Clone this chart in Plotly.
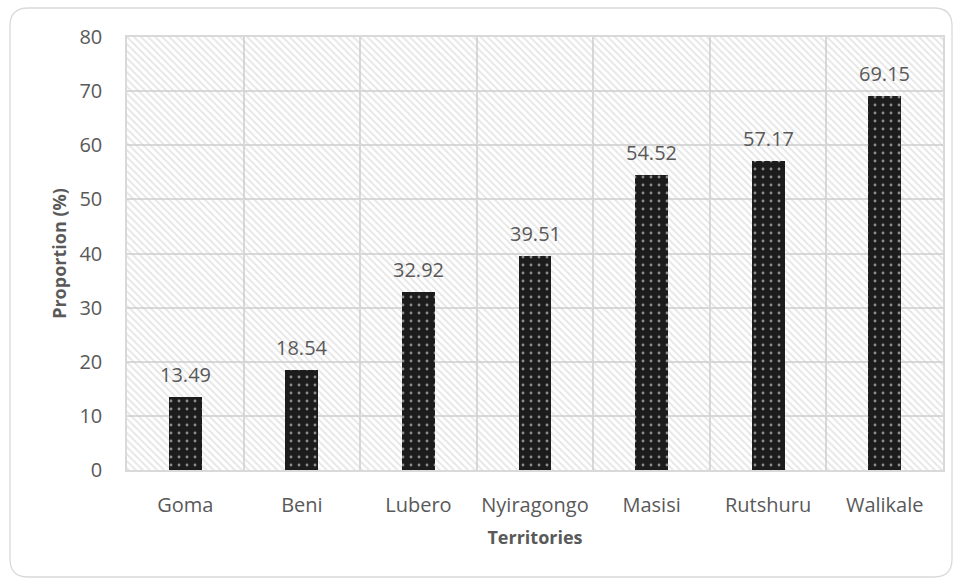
import plotly.graph_objects as go

territories = ["Goma", "Beni", "Lubero", "Nyiragongo", "Masisi", "Rutshuru", "Walikale"]
proportion = [13.49, 18.54, 32.92, 39.51, 54.52, 57.17, 69.15]
y_max = 80
y_ticks = [0, 10, 20, 30, 40, 50, 60, 70, 80]

W, H = 960, 580
ml, mr, mt, mb = 127, 17, 37, 110

FONT = "Open Sans"
GRAY = "#595959"
GRID = "#d9d9d9"

xs = list(range(len(territories)))

fig = go.Figure()
# hatched plot background
fig.add_trace(go.Bar(
    x=xs, y=[y_max] * len(xs), width=1,
    marker=dict(color="rgba(0,0,0,0)", line=dict(width=0),
                pattern=dict(shape="\\", size=5, solidity=0.35,
                             fgcolor="#cccccc", bgcolor="rgba(0,0,0,0)")),
    hoverinfo="skip", showlegend=False,
))
# data bars
fig.add_trace(go.Bar(
    x=xs, y=proportion, width=0.283,
    marker=dict(color="#1c1c1c", line=dict(width=0),
                pattern=dict(shape=".", size=8, solidity=0.1,
                             fgcolor="#ffffff", bgcolor="#1c1c1c")),
    showlegend=False,
))

for x, v in zip(xs, proportion):
    fig.add_annotation(x=x, y=v, text=f"{v:.2f}", showarrow=False,
                       yanchor="bottom", yshift=7,
                       font=dict(family=FONT, size=20, color=GRAY))

# rounded outer border
x0 = (10 - ml) / (W - ml - mr)
x1 = (952 - ml) / (W - ml - mr)
y1 = 1 + (mt - 8) / (H - mt - mb)
y0 = -(577 - (H - mb)) / (H - mt - mb)
pw, ph = W - ml - mr, H - mt - mb
r = 18
rx, ry = r / pw, r / ph
path = (f"M {x0+rx},{y1} L {x1-rx},{y1} Q {x1},{y1} {x1},{y1-ry} "
        f"L {x1},{y0+ry} Q {x1},{y0} {x1-rx},{y0} L {x0+rx},{y0} "
        f"Q {x0},{y0} {x0},{y0+ry} L {x0},{y1-ry} Q {x0},{y1} {x0+rx},{y1} Z")
fig.add_shape(type="path", path=path, xref="paper", yref="paper",
              line=dict(color=GRID, width=1.3), layer="below")

fig.update_layout(
    width=W, height=H,
    margin=dict(l=ml, r=mr, t=mt, b=mb),
    paper_bgcolor="white", plot_bgcolor="white",
    barmode="overlay", bargap=0,
    font=dict(family=FONT, color=GRAY),
    xaxis=dict(
        range=[-0.5, len(xs) - 0.5], tickmode="array", tickvals=xs,
        ticktext=territories, showgrid=False, zeroline=False,
        showline=True, linecolor=GRID, linewidth=1.5, mirror=True,
        ticks="", ticklabelstandoff=16,
        tickfont=dict(family=FONT, size=20, color=GRAY),
        minor=dict(tick0=-0.5, dtick=1, showgrid=True, gridcolor=GRID, gridwidth=1.5),
        title=dict(text="<b>Territories</b>", standoff=15,
                   font=dict(family=FONT, size=18, color=GRAY)),
    ),
    yaxis=dict(
        range=[0, y_max], tickmode="array", tickvals=y_ticks,
        showgrid=True, gridcolor=GRID, gridwidth=1.5, zeroline=False,
        showline=True, linecolor=GRID, linewidth=1.5, mirror=True,
        ticks="", ticklabelstandoff=19,
        tickfont=dict(family=FONT, size=20, color=GRAY),
        title=dict(text="<b>Proportion (%)</b>", standoff=8,
                   font=dict(family=FONT, size=18, color=GRAY)),
    ),
)

fig.write_html("out.html")
